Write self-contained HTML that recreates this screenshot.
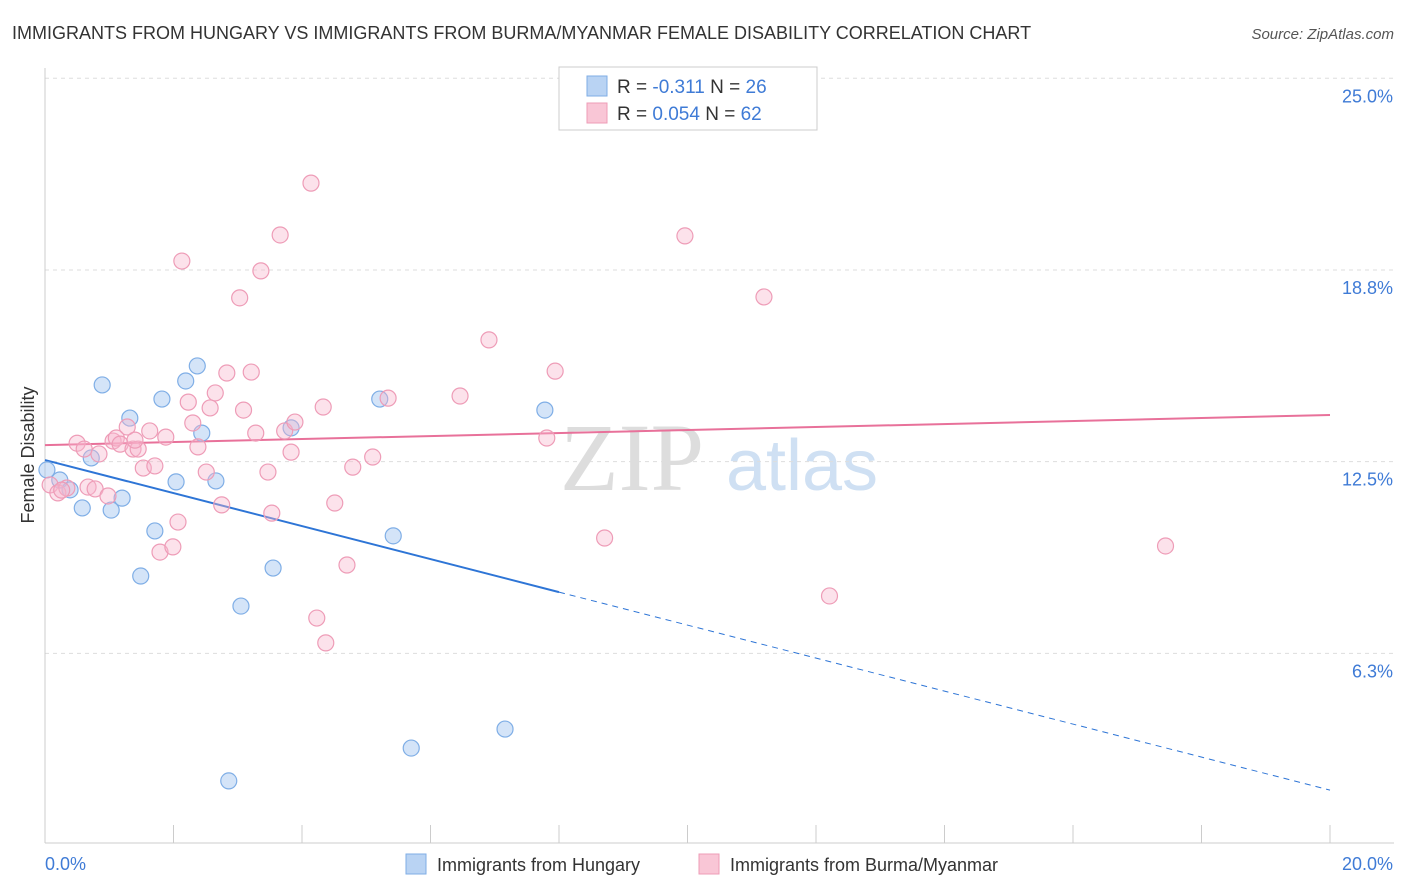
<!DOCTYPE html>
<html><head><meta charset="utf-8"><style>
body{margin:0;background:#fff;font-family:"Liberation Sans",sans-serif}
svg{display:block}
</style></head><body>
<svg id="chart" width="1406" height="892" viewBox="0 0 1406 892" xmlns="http://www.w3.org/2000/svg">
<text x="12" y="39" font-size="18" fill="#333">IMMIGRANTS FROM HUNGARY VS IMMIGRANTS FROM BURMA/MYANMAR FEMALE DISABILITY CORRELATION CHART</text>
<text x="1394" y="39" font-size="15" fill="#555" text-anchor="end" font-style="italic">Source: ZipAtlas.com</text>
<g>
<text x="632" y="490" font-size="96" fill="#ddd" font-family="Liberation Serif,serif" text-anchor="middle">ZIP</text>
<text x="802" y="490" font-size="72" fill="#cfe0f3" text-anchor="middle">atlas</text>
</g>
<g id="grid"></g>
<g id="axes"></g>
<g id="trends"></g>
<g id="points"></g>
<text transform="translate(34,455) rotate(-90)" font-size="18" fill="#333" text-anchor="middle">Female Disability</text>
<g>
<rect x="559" y="67" width="258" height="63" fill="#fff" stroke="#ccc"/>
<rect x="587" y="76" width="20" height="20" fill="#b9d3f3" stroke="#7faee6"/>
<rect x="587" y="103" width="20" height="20" fill="#f9c6d6" stroke="#ee9cb7"/>
<text x="617" y="93" font-size="19" fill="#333">R = <tspan fill="#3f7bd6">-0.311</tspan>   N = <tspan fill="#3f7bd6">26</tspan></text>
<text x="617" y="120" font-size="19" fill="#333">R = <tspan fill="#3f7bd6">0.054</tspan>   N = <tspan fill="#3f7bd6">62</tspan></text>
</g>
<g>
<rect x="406" y="854" width="20" height="20" fill="#b9d3f3" stroke="#7faee6"/>
<text x="437" y="871" font-size="18" fill="#333">Immigrants from Hungary</text>
<rect x="699" y="854" width="20" height="20" fill="#f9c6d6" stroke="#ee9cb7"/>
<text x="730" y="871" font-size="18" fill="#333">Immigrants from Burma/Myanmar</text>
</g>
</svg>
<script>
const hungaryX=[0.03,0.23,0.39,0.58,0.72,0.89,1.03,1.20,1.32,1.49,1.71,1.82,2.04,2.19,2.37,2.44,2.66,2.86,3.05,3.55,3.83,5.21,5.42,5.70,7.16,7.78];
const hungaryY=[12.23,11.9,11.58,10.99,12.62,15.0,10.92,11.31,13.92,8.77,10.24,14.54,11.84,15.13,15.62,13.43,11.87,2.09,7.79,9.03,13.6,14.54,10.08,3.16,3.78,14.18];
const burmaX=[0.08,0.2,0.34,0.5,0.61,0.67,0.78,0.84,0.98,1.06,1.11,1.17,1.28,1.37,1.45,1.53,1.63,1.71,1.79,1.88,1.99,2.07,2.13,2.23,2.30,2.38,2.51,2.57,2.65,2.75,2.83,3.03,3.09,3.21,3.28,3.36,3.47,3.53,3.66,3.73,3.83,3.89,4.14,4.23,4.33,4.37,4.51,4.70,4.79,5.10,5.34,6.46,6.91,7.81,7.94,8.71,9.96,11.19,12.21,17.44,0.26,1.4];
const burmaY=[11.74,11.48,11.64,13.1,12.91,11.67,11.61,12.75,11.38,13.17,13.27,13.07,13.63,12.91,12.91,12.29,13.5,12.36,9.55,13.3,9.72,10.53,19.04,14.44,13.76,12.98,12.16,14.25,14.74,11.09,15.39,17.84,14.18,15.42,13.43,18.72,12.16,10.82,19.89,13.5,12.81,13.79,21.58,7.4,14.28,6.59,11.15,9.13,12.32,12.65,14.57,14.64,16.47,13.27,15.45,10.01,19.86,17.87,8.12,9.75,11.57,13.2];
const yTicks=[25.0,18.8,12.5,6.3];
const yTickLabels=["25.0%","18.8%","12.5%","6.3%"];
const xTicks=[0,2,4,6,8,10,12,14,16,18,20];
const hungaryTrend=[12.55,1.79];
const burmaTrend=[13.04,14.02];
const hungarySolidEnd=8.0;
const NS="http://www.w3.org/2000/svg";
const X=v=>45+v/20*1285;
const Y=v=>845-v*30.67;
function mk(tag,attrs,parent){const e=document.createElementNS(NS,tag);for(const k in attrs)e.setAttribute(k,attrs[k]);parent.appendChild(e);return e;}
const grid=document.getElementById('grid'),axes=document.getElementById('axes'),trends=document.getElementById('trends'),pts=document.getElementById('points');
yTicks.forEach((t,i)=>{const yy=Y(t===18.8?18.75:t===6.3?6.25:t);
const l=mk('line',{x1:45,x2:1394,y1:yy,y2:yy,stroke:'#ddd','stroke-dasharray':'4,4'},grid);


const tx=mk('text',{x:1393,y:yy+24,'font-size':18,fill:'#3f7bd6','text-anchor':'end'},axes);tx.textContent=yTickLabels[i];

});
mk('line',{x1:45,x2:45,y1:68,y2:843,stroke:'#ccc'},axes);
mk('line',{x1:45,x2:1394,y1:843,y2:843,stroke:'#ccc'},axes);
xTicks.forEach(t=>{const l=mk('line',{x1:X(t),x2:X(t),y1:825,y2:843,stroke:'#ccc'},axes);

});
const x0=mk('text',{x:45,y:870,'font-size':18,fill:'#3f7bd6'},axes);x0.textContent='0.0%';


const x1=mk('text',{x:1393,y:870,'font-size':18,fill:'#3f7bd6','text-anchor':'end'},axes);x1.textContent='20.0%';


hungaryX.forEach((v,i)=>{const c=mk('circle',{cx:X(v),cy:Y(hungaryY[i]),r:8,fill:'rgba(160,196,240,0.45)',stroke:'#7faee6','stroke-width':1.2},pts);

});
burmaX.forEach((v,i)=>{const c=mk('circle',{cx:X(v),cy:Y(burmaY[i]),r:8,fill:'rgba(248,182,204,0.4)',stroke:'#ee9cb7','stroke-width':1.2},pts);

});
const hy=x=>hungaryTrend[0]+(hungaryTrend[1]-hungaryTrend[0])*x/20;
const t1=mk('line',{x1:X(0),y1:Y(hy(0)),x2:X(hungarySolidEnd),y2:Y(hy(hungarySolidEnd)),stroke:'#2e75d6','stroke-width':2},trends);


const t2=mk('line',{x1:X(hungarySolidEnd),y1:Y(hy(hungarySolidEnd)),x2:X(20),y2:Y(hy(20)),stroke:'#2e75d6','stroke-width':1,'stroke-dasharray':'6,5'},trends);


const t3=mk('line',{x1:X(0),y1:Y(burmaTrend[0]),x2:X(20),y2:Y(burmaTrend[1]),stroke:'#e8719a','stroke-width':2},trends);


</script>
</body></html>
